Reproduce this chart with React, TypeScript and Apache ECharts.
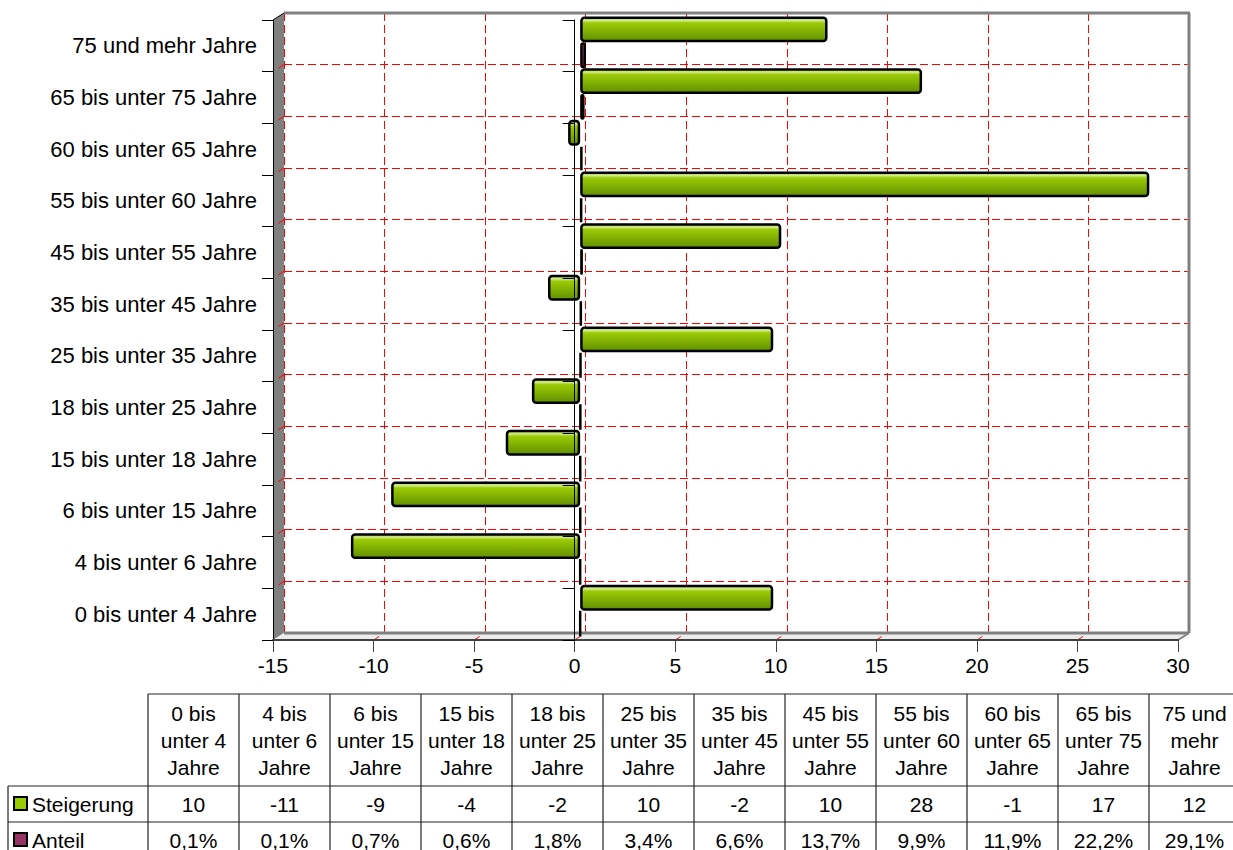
import React, { useEffect, useRef } from "react";
import * as echarts from "echarts";

// Age groups, bottom to top on the category axis
const categories: string[] = [
  "0 bis unter 4 Jahre",
  "4 bis unter 6 Jahre",
  "6 bis unter 15 Jahre",
  "15 bis unter 18 Jahre",
  "18 bis unter 25 Jahre",
  "25 bis unter 35 Jahre",
  "35 bis unter 45 Jahre",
  "45 bis unter 55 Jahre",
  "55 bis unter 60 Jahre",
  "60 bis unter 65 Jahre",
  "65 bis unter 75 Jahre",
  "75 und mehr Jahre",
];

// Steigerung (increase, in %)
const steigerung: number[] = [9.6, -11.4, -9.4, -3.7, -2.4, 9.6, -1.6, 10.0, 28.3, -0.6, 17.0, 12.3];

// Anteil (share, in %) – plotted on the same axis as a fraction
const anteilPct: number[] = [0.1, 0.1, 0.7, 0.6, 1.8, 3.4, 6.6, 13.7, 9.9, 11.9, 22.2, 29.1];

const seriesNames: string[] = ["Steigerung", "Anteil"];

const X_MIN = -15;
const X_MAX = 30;
const X_STEP = 5;

const FONT = "'Liberation Sans', Arial, Helvetica, sans-serif";

// Pseudo-3D frame: front plane, bar plane and back wall are offset by the depth
const FRONT = { left: 273, top: 20, width: 905, height: 620 };
const DEPTH_X = 11;
const DEPTH_Y = -7;
const MID = { left: FRONT.left + DEPTH_X / 2, top: FRONT.top + DEPTH_Y / 2 };
const BACK = { left: FRONT.left + DEPTH_X, top: FRONT.top + DEPTH_Y };

// Data table below the chart
const TABLE = { left: 148, colW: 91, top: 694, headH: 92, rowH: 36, legendLeft: 8 };

const GREEN = "#99cc00";
const MAROON = "#993366";

const greenFill = new echarts.graphic.LinearGradient(0, 0, 0, 1, [
  { offset: 0, color: "#a8d41e" },
  { offset: 0.12, color: "#d2ea90" },
  { offset: 0.22, color: "#9ccb06" },
  { offset: 1, color: "#628f00" },
]);

const maroonFill = new echarts.graphic.LinearGradient(0, 0, 0, 1, [
  { offset: 0, color: "#b04a82" },
  { offset: 1, color: "#7a2350" },
]);

const headerText = (c: string) => c.replace(/ (unter|mehr|Jahre)/g, "\n$1");
const fmtSteigerung = (v: number) => String(Math.round(v));
const fmtAnteil = (v: number) => v.toFixed(1).replace(".", ",") + "%";

function valueAxis(gridIndex: number, extra: any = {}) {
  return {
    type: "value",
    gridIndex,
    min: X_MIN,
    max: X_MAX,
    interval: X_STEP,
    axisLine: { show: false },
    axisTick: { show: false },
    axisLabel: { show: false },
    splitLine: { show: false },
    ...extra,
  };
}

function categoryAxis(gridIndex: number, extra: any = {}) {
  return {
    type: "category",
    gridIndex,
    data: categories,
    axisLine: { show: false },
    axisTick: { show: false },
    axisLabel: { show: false },
    splitLine: { show: false },
    ...extra,
  };
}

function buildTable(): any[] {
  const els: any[] = [];
  const lineStyle = { stroke: "#222", lineWidth: 1.2 };
  const right = TABLE.left + TABLE.colW * categories.length;
  const rowTop1 = TABLE.top + TABLE.headH;
  const rowTop2 = rowTop1 + TABLE.rowH;
  const bottom = rowTop2 + TABLE.rowH;
  const z = 5;

  els.push({ type: "line", z, shape: { x1: TABLE.left, y1: TABLE.top, x2: right, y2: TABLE.top }, style: lineStyle });
  [rowTop1, rowTop2].forEach((y) =>
    els.push({ type: "line", z, shape: { x1: TABLE.legendLeft, y1: y, x2: right, y2: y }, style: lineStyle })
  );
  els.push({ type: "line", z, shape: { x1: TABLE.legendLeft, y1: rowTop1, x2: TABLE.legendLeft, y2: bottom }, style: lineStyle });
  for (let i = 0; i <= categories.length; i++) {
    const x = TABLE.left + i * TABLE.colW;
    els.push({ type: "line", z, shape: { x1: x, y1: TABLE.top, x2: x, y2: bottom }, style: lineStyle });
  }

  const textBase = { fontFamily: FONT, fontSize: 21, fill: "#000" };
  categories.forEach((c, i) => {
    const cx = TABLE.left + i * TABLE.colW + TABLE.colW / 2;
    els.push({
      type: "text",
      z,
      x: cx,
      y: TABLE.top + TABLE.headH / 2,
      style: { ...textBase, text: headerText(c), align: "center", verticalAlign: "middle", lineHeight: 27 },
    });
    els.push({
      type: "text",
      z,
      x: cx,
      y: rowTop1 + TABLE.rowH / 2,
      style: { ...textBase, text: fmtSteigerung(steigerung[i]), align: "center", verticalAlign: "middle" },
    });
    els.push({
      type: "text",
      z,
      x: cx,
      y: rowTop2 + TABLE.rowH / 2,
      style: { ...textBase, text: fmtAnteil(anteilPct[i]), align: "center", verticalAlign: "middle" },
    });
  });

  // legend keys inside the table
  [
    { name: seriesNames[0], color: GREEN, top: rowTop1 },
    { name: seriesNames[1], color: MAROON, top: rowTop2 },
  ].forEach((k) => {
    els.push({
      type: "rect",
      z,
      shape: { x: 14, y: k.top + TABLE.rowH / 2 - 7, width: 13, height: 13 },
      style: { fill: k.color, stroke: "#000", lineWidth: 2 },
    });
    els.push({
      type: "text",
      z,
      x: 32,
      y: k.top + TABLE.rowH / 2,
      style: { ...textBase, text: k.name, align: "left", verticalAlign: "middle" },
    });
  });
  return els;
}

function buildFrame(chart: any): any[] {
  const els: any[] = [];
  const fl = FRONT.left;
  const fr = FRONT.left + FRONT.width;
  const ft = FRONT.top;
  const fb = FRONT.top + FRONT.height;
  const bl = BACK.left;
  const br = BACK.left + FRONT.width;
  const bt = BACK.top;
  const bb = BACK.top + FRONT.height;
  const grey = "#808080";

  // side wall and floor
  els.push({ type: "polygon", z: 1, shape: { points: [[fl, ft], [bl, bt], [bl, bb], [fl, fb]] }, style: { fill: grey } });
  els.push({ type: "polygon", z: 1, shape: { points: [[fl, fb], [bl, bb], [br, bb], [fr, fb]] }, style: { fill: "#ececec" } });

  // back wall edges
  els.push({ type: "line", z: 1, shape: { x1: bl, y1: bt, x2: br + 1, y2: bt }, style: { stroke: grey, lineWidth: 3 } });
  els.push({ type: "line", z: 1, shape: { x1: br, y1: bt, x2: br, y2: bb }, style: { stroke: grey, lineWidth: 3 } });
  els.push({ type: "line", z: 1, shape: { x1: bl, y1: bb, x2: br, y2: bb }, style: { stroke: grey, lineWidth: 3 } });
  els.push({ type: "line", z: 1, shape: { x1: br, y1: bb, x2: fr, y2: fb }, style: { stroke: grey, lineWidth: 2 } });
  els.push({ type: "line", z: 1, shape: { x1: fl, y1: ft, x2: bl, y2: bt }, style: { stroke: "#000", lineWidth: 1 } });

  // grid line continuations on the side wall
  const bandH = FRONT.height / categories.length;
  for (let k = 1; k < categories.length; k++) {
    const y = bt + k * bandH;
    els.push({
      type: "line",
      z: 1,
      shape: { x1: bl, y1: y, x2: bl - DEPTH_X / 2, y2: y - DEPTH_Y / 2 },
      style: { stroke: "#ff0000", lineWidth: 1 },
    });
  }
  // grid line continuations on the floor
  for (let v = X_MIN + X_STEP; v < X_MAX; v += X_STEP) {
    const p = chart.convertToPixel({ gridIndex: 2 }, [v, categories[0]]);
    els.push({
      type: "line",
      z: 1,
      shape: { x1: p[0], y1: fb, x2: p[0] + DEPTH_X / 2, y2: fb + DEPTH_Y / 2 },
      style: { stroke: "#ff0000", lineWidth: 1 },
    });
  }
  return els;
}

export default function App() {
  const ref = useRef<HTMLDivElement>(null);

  useEffect(() => {
    if (!ref.current) return;
    const chart = echarts.init(ref.current, null, { renderer: "svg" });

    const redDash = { color: "#ff0000", width: 1, type: [8, 4] as any };
    const gridBox = (l: number, t: number) => ({ left: l, top: t, width: FRONT.width, height: FRONT.height });

    chart.setOption({
      animation: false,
      backgroundColor: "#ffffff",
      textStyle: { fontFamily: FONT },
      grid: [
        gridBox(BACK.left, BACK.top),
        gridBox(MID.left, MID.top),
        gridBox(FRONT.left, FRONT.top),
        gridBox(FRONT.left, FRONT.top),
      ],
      xAxis: [
        valueAxis(0, { splitLine: { show: true, lineStyle: redDash } }),
        valueAxis(1),
        valueAxis(2, {
          z: 3,
          axisLine: { show: true, onZero: false, lineStyle: { color: "#404040", width: 2 } },
          axisTick: { show: true, length: 12, lineStyle: { color: "#404040", width: 1 } },
          axisLabel: { show: true, fontSize: 21, color: "#000", margin: 15, fontFamily: FONT },
        }),
        valueAxis(3),
      ],
      yAxis: [
        categoryAxis(0, { splitLine: { show: true, interval: 0, lineStyle: redDash } }),
        categoryAxis(1),
        categoryAxis(2, {
          z: 3,
          axisLine: { show: true, onZero: false, lineStyle: { color: "#000", width: 1 } },
          axisTick: { show: true, length: 11, lineStyle: { color: "#000", width: 1 } },
          axisLabel: { show: true, fontSize: 22, color: "#000", margin: 16, fontFamily: FONT },
        }),
        categoryAxis(3, {
          z: 4,
          axisLine: { show: true, onZero: true, lineStyle: { color: "#000", width: 1 } },
          axisTick: { show: true, length: 12, lineStyle: { color: "#000", width: 1 } },
        }),
      ],
      series: [
        {
          name: seriesNames[0],
          type: "bar",
          xAxisIndex: 1,
          yAxisIndex: 1,
          z: 2,
          barGap: "0%",
          barCategoryGap: "0%",
          data: steigerung,
          itemStyle: { color: greenFill, borderColor: "#000", borderWidth: 2.5, borderRadius: 3 },
        },
        {
          name: seriesNames[1],
          type: "bar",
          xAxisIndex: 1,
          yAxisIndex: 1,
          z: 2,
          barGap: "0%",
          barCategoryGap: "0%",
          data: anteilPct.map((v) => v / 100),
          itemStyle: { color: maroonFill, borderColor: "#000", borderWidth: 2.5, borderRadius: 2 },
        },
      ],
    });

    chart.setOption({ graphic: { elements: [...buildFrame(chart), ...buildTable()] } });

    return () => chart.dispose();
  }, []);

  return (
    <div
      ref={ref}
      style={{ position: "absolute", left: 0, top: 0, width: 1233, height: 850 }}
    />
  );
}
